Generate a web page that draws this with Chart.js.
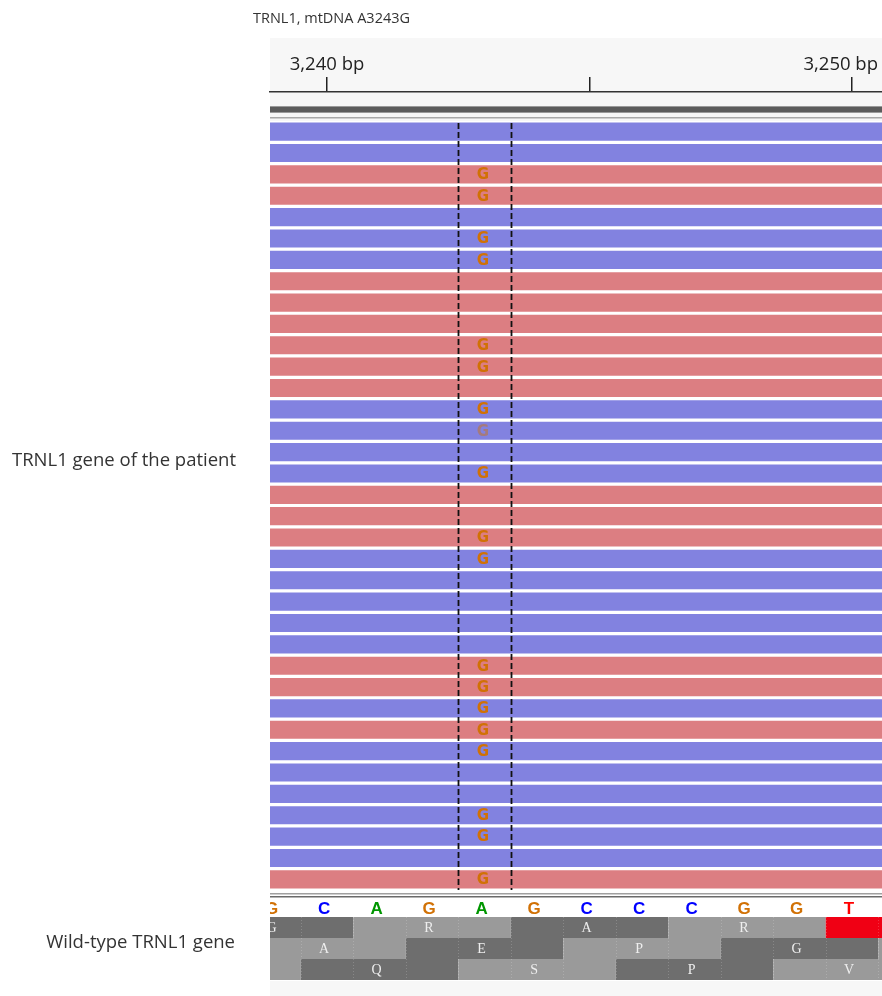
<!DOCTYPE html>
<html lang="en">
<head>
<meta charset="UTF-8">
<title>TRNL1, mtDNA A3243G</title>
<script src="https://cdn.jsdelivr.net/npm/chart.js"></script>
<style>
  body { margin: 0; background: #fff; font-family: "Open Sans", sans-serif; color: #333; }
  #wrap { position: relative; width: 882px; height: 996px; }
  #igv { position: absolute; left: 0; top: 0; }
  .lbl { position: absolute; font-size: 18.5px; white-space: nowrap; color: #333; }
</style>
</head>
<body>
<div id="wrap">
  <canvas id="igv" width="882" height="996"></canvas>
  <div class="lbl" style="left:253px; top:8px; font-size:14.5px;">TRNL1, mtDNA A3243G</div>
  <div class="lbl" style="left:12px; top:446px;">TRNL1 gene of the patient</div>
  <div class="lbl" style="right:647px; top:928px;">Wild-type TRNL1 gene</div>
</div>

<script>
// visible window (bp)
const viewStart = 3238.914;
const viewEnd = 3250.571;

const rulerTicks = [3240, 3245, 3250];
const rulerLabels = ['3,240 bp', '', '3,250 bp'];

const variantPos = 3243;

// reference sequence shown under the reads
const refPositions = [3239, 3240, 3241, 3242, 3243, 3244, 3245, 3246, 3247, 3248, 3249, 3250];
const refBases = ['G', 'C', 'A', 'G', 'A', 'G', 'C', 'C', 'C', 'G', 'G', 'T'];

// one entry per read row, top to bottom
const readStrands = ['-', '-', '+', '+', '-', '-', '-', '+', '+', '+', '+', '+', '+', '-', '-', '-', '-', '+',
                     '+', '+', '-', '-', '-', '-', '-', '+', '+', '-', '+', '-', '-', '-', '-', '-', '-', '+'];
const readBases = ['A', 'A', 'G', 'G', 'A', 'G', 'G', 'A', 'A', 'A', 'G', 'G', 'A', 'G', 'G', 'A', 'G', 'A',
                   'A', 'G', 'G', 'A', 'A', 'A', 'A', 'G', 'G', 'G', 'G', 'G', 'A', 'A', 'G', 'G', 'A', 'G'];
const lowQualityRows = [15];

// three reading frames: codon centre positions and amino acids
const frame1Centers = [3239, 3242, 3245, 3248, 3251];
const frame1Amino = ['G', 'R', 'A', 'R', '*'];
const frame2Centers = [3237, 3240, 3243, 3246, 3249, 3252];
const frame2Amino = ['M', 'A', 'E', 'P', 'G', 'N'];
const frame3Centers = [3238, 3241, 3244, 3247, 3250];
const frame3Amino = ['W', 'Q', 'S', 'P', 'V'];

const frames = [
    { centers: frame1Centers, amino: frame1Amino, firstDark: true },
    { centers: frame2Centers, amino: frame2Amino, firstDark: true },
    { centers: frame3Centers, amino: frame3Amino, firstDark: false }
];

const strandColor = { '+': 'rgb(220,126,130)', '-': 'rgb(130,130,224)' };
const baseColor = { A: 'rgb(0,150,0)', C: 'rgb(0,0,255)', G: 'rgb(209,113,5)', T: 'rgb(255,0,0)' };

const igvTracks = {
    id: 'igvTracks',
    beforeDraw(chart) {
        const { ctx, chartArea: a, scales: { x } } = chart;
        // keep the ruler labels inside the panel, like IGV does
        x.getLabelItems().forEach(item => {
            if (!item.label) return;
            ctx.font = item.font.string;
            const half = ctx.measureText(item.label).width / 2;
            const t = item.options.translation;
            if (t[0] + half > a.right - 4) t[0] = a.right - 4 - half;
            if (t[0] - half < a.left + 4) t[0] = a.left + 4 + half;
        });

        ctx.save();
        ctx.fillStyle = '#f7f7f7';
        ctx.fillRect(a.left, 38, a.right - a.left, a.top - 38);
        ctx.fillRect(a.left, a.bottom + 91, a.right - a.left, 996 - a.bottom - 91);
        ctx.fillStyle = '#fff';
        ctx.fillRect(a.left, a.top, a.right - a.left, a.bottom - a.top + 91);
        // track separators in the ruler panel
        ctx.fillStyle = '#5c5c5c';
        ctx.fillRect(a.left, a.top - 14, a.right - a.left, 5);
        ctx.fillStyle = '#9a9a9a';
        ctx.fillRect(a.left, a.top - 15, a.right - a.left, 1);
        ctx.fillRect(a.left, a.top - 9, a.right - a.left, 1);
        ctx.fillStyle = '#a8a8a8';
        ctx.fillRect(a.left, a.top - 4, a.right - a.left, 1.5);
        ctx.restore();
    },
    afterDatasetsDraw(chart) {
        const { ctx, chartArea: a, scales: { x, y } } = chart;
        const refIdx = refPositions.indexOf(variantPos);
        const xc = x.getPixelForValue(variantPos);

        ctx.save();
        ctx.beginPath();
        ctx.rect(a.left, a.top, a.right - a.left, a.bottom - a.top);
        ctx.clip();
        // mismatched bases
        ctx.font = 'bold 15px "DejaVu Sans"';
        ctx.textAlign = 'center';
        ctx.textBaseline = 'middle';
        readBases.forEach((b, i) => {
            if (b === refBases[refIdx]) return;
            const low = lowQualityRows.includes(i + 1);
            ctx.fillStyle = low ? 'rgba(209,113,5,0.45)' : baseColor[b];
            ctx.fillText(b, xc - 1.5, y.getPixelForValue(i) + 1);
        });
        // dashed box around the variant column
        ctx.strokeStyle = '#111';
        ctx.lineWidth = 1.8;
        ctx.setLineDash([6, 3]);
        [variantPos - 0.5, variantPos + 0.5].forEach(p => {
            const px = Math.round(x.getPixelForValue(p)) + 0.5;
            ctx.beginPath();
            ctx.moveTo(px, a.top + 2);
            ctx.lineTo(px, a.bottom);
            ctx.stroke();
        });
        ctx.restore();
    },
    afterDraw(chart) {
        const { ctx, chartArea: a, scales: { x } } = chart;
        const w = a.right - a.left;
        ctx.save();
        // separators above the sequence track
        ctx.fillStyle = '#a0a0a0';
        ctx.fillRect(a.left, a.bottom + 3, w, 1.5);
        ctx.fillStyle = '#6a6a6a';
        ctx.fillRect(a.left, a.bottom + 6, w, 1.5);

        ctx.beginPath();
        ctx.rect(a.left, a.top - 40, w, 996);
        ctx.clip();

        // reference sequence
        ctx.font = 'bold 17px "Liberation Sans"';
        ctx.textAlign = 'center';
        ctx.textBaseline = 'middle';
        refBases.forEach((b, i) => {
            ctx.fillStyle = baseColor[b];
            ctx.fillText(b, x.getPixelForValue(refPositions[i]) - 3, a.bottom + 19);
        });

        // translation frames
        const rowH = 21;
        const top0 = a.bottom + 27;
        frames.forEach((f, r) => {
            const ty = top0 + r * rowH;
            f.centers.forEach((c, i) => {
                const x0 = x.getPixelForValue(c - 1.5);
                const x1 = x.getPixelForValue(c + 1.5);
                const dark = (i % 2 === 0) === f.firstDark;
                ctx.fillStyle = f.amino[i] === '*' ? 'rgb(240,0,20)' : (dark ? '#6e6e6e' : '#9a9a9a');
                ctx.fillRect(x0, ty, x1 - x0, rowH);
            });
        });
        // faint base boundaries
        ctx.strokeStyle = 'rgba(255,255,255,0.18)';
        ctx.lineWidth = 1;
        ctx.setLineDash([1, 2]);
        for (let p = Math.ceil(viewStart - 0.5) + 0.5; p < viewEnd; p++) {
            const px = Math.round(x.getPixelForValue(p)) + 0.5;
            ctx.beginPath();
            ctx.moveTo(px, top0);
            ctx.lineTo(px, top0 + 3 * rowH);
            ctx.stroke();
        }
        ctx.setLineDash([]);
        ctx.font = '14px "Liberation Serif"';
        ctx.fillStyle = '#eeeeee';
        frames.forEach((f, r) => {
            const ty = top0 + r * rowH + rowH / 2 + 1;
            f.centers.forEach((c, i) => {
                if (f.amino[i] === '*') return;
                ctx.fillText(f.amino[i], x.getPixelForValue(c) - 3, ty);
            });
        });
        ctx.restore();
    }
};

new Chart(document.getElementById('igv'), {
    type: 'bar',
    data: {
        labels: readStrands.map((s, i) => 'read ' + (i + 1)),
        datasets: [{
            data: readStrands.map(() => [viewStart, viewEnd]),
            backgroundColor: readStrands.map(s => strandColor[s]),
            borderWidth: 0,
            barPercentage: 0.85,
            categoryPercentage: 1
        }]
    },
    options: {
        indexAxis: 'y',
        responsive: false,
        animation: false,
        layout: { padding: { left: 270, right: 0, top: 38, bottom: 106 } },
        plugins: { legend: { display: false }, tooltip: { enabled: false } },
        scales: {
            x: {
                type: 'linear',
                position: 'top',
                min: viewStart,
                max: viewEnd,
                weight: 1,
                afterBuildTicks: s => { s.ticks = rulerTicks.map(v => ({ value: v })); },
                afterFit: s => { s.height = 54; s.paddingLeft = 0; s.paddingRight = 0; },
                ticks: {
                    callback: v => rulerLabels[rulerTicks.indexOf(v)],
                    font: { family: 'Open Sans', size: 18.5 },
                    color: '#222',
                    padding: 1,
                    maxRotation: 0,
                    autoSkip: false
                },
                grid: { drawOnChartArea: false, tickLength: 15, color: '#222', lineWidth: 1.5 },
                border: { color: '#333', width: 1.5 }
            },
            xPad: {
                type: 'linear',
                position: 'top',
                min: viewStart,
                max: viewEnd,
                weight: 0,
                ticks: { display: false },
                grid: { display: false },
                border: { display: false },
                afterFit: s => { s.height = 29; s.paddingLeft = 0; s.paddingRight = 0; }
            },
            y: { type: 'category', display: false, offset: true }
        }
    },
    plugins: [igvTracks]
});
</script>
</body>
</html>
